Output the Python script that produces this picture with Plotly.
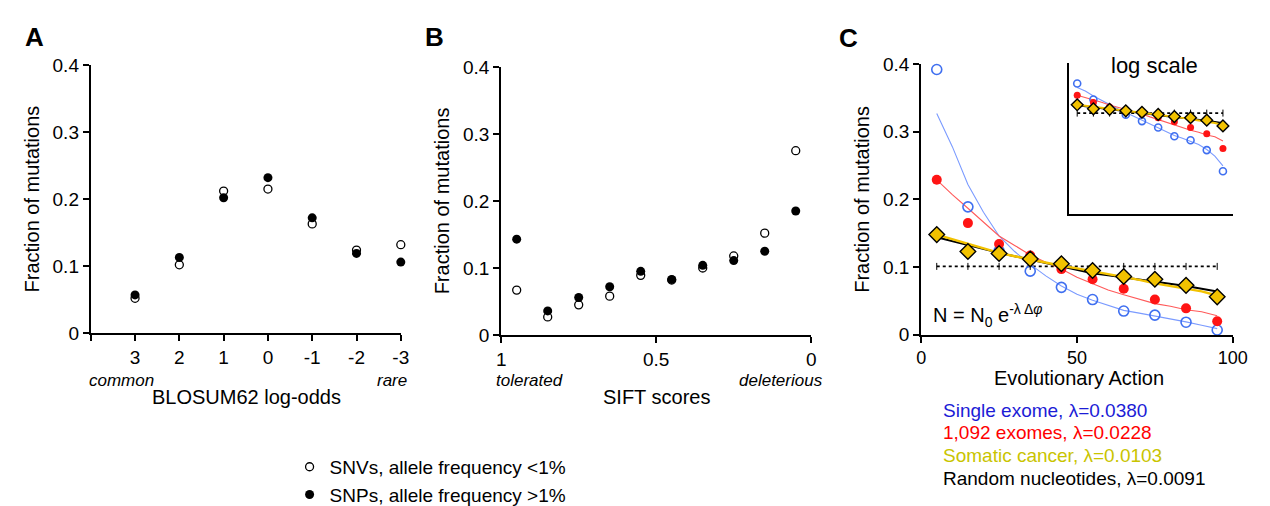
import plotly.graph_objects as go

W, H = 1270, 506
FONT = "Liberation Sans, Arial, sans-serif"

# ---------------- data ----------------
# Panel A: BLOSUM62 log-odds
blosum_x = [3, 2, 1, 0, -1, -2, -3]
blosum_snv = [0.052, 0.102, 0.212, 0.215, 0.163, 0.124, 0.132]   # open, SNVs <1%
blosum_snp = [0.057, 0.113, 0.202, 0.232, 0.172, 0.119, 0.106]   # filled, SNPs >1%
blosum_tickvals = [4, 3, 2, 1, 0, -1, -2, -3]
blosum_ticktext = ["", "3", "2", "1", "0", "-1", "-2", "-3"]

# Panel B: SIFT scores
sift_x = [0.95, 0.85, 0.75, 0.65, 0.55, 0.45, 0.35, 0.25, 0.15, 0.05]
sift_snv = [0.067, 0.027, 0.045, 0.058, 0.089, 0.082, 0.100, 0.118, 0.152, 0.275]
sift_snp = [0.143, 0.036, 0.056, 0.072, 0.095, 0.083, 0.104, 0.111, 0.125, 0.185]
sift_tickvals = [1, 0.5, 0]
sift_ticktext = ["1", "0.5", "0"]

# Panel C: Evolutionary Action
ea_x = [5, 15, 25, 35, 45, 55, 65, 75, 85, 95]
single_exome = [0.392, 0.189, 0.124, 0.094, 0.070, 0.052, 0.035, 0.029, 0.0185, 0.007]
exomes_1092 = [0.229, 0.165, 0.134, 0.117, 0.097, 0.082, 0.068, 0.052, 0.039, 0.020]
somatic_cancer = [0.148, 0.123, 0.120, 0.112, 0.105, 0.095, 0.086, 0.082, 0.073, 0.056]
uniform_level = [0.101] * 10

fit_x = [5, 10, 15, 20, 25, 30, 35, 40, 45, 50, 55, 60, 65, 70, 75, 80, 85, 90, 95]
single_exome_fit = [0.327, 0.278, 0.222, 0.181, 0.146, 0.123, 0.104, 0.087, 0.072, 0.060,
                    0.051, 0.043, 0.036, 0.032, 0.028, 0.024, 0.019, 0.014, 0.009]
exomes_1092_fit = [0.229, 0.207, 0.187, 0.166, 0.146, 0.132, 0.118, 0.107, 0.097, 0.085,
                   0.075, 0.066, 0.059, 0.052, 0.046, 0.042, 0.037, 0.034, 0.028]
random_nucleotides = [0.144, 0.138, 0.132, 0.126, 0.121, 0.116, 0.111, 0.107, 0.102, 0.096,
                      0.091, 0.088, 0.085, 0.081, 0.078, 0.075, 0.072, 0.068, 0.064]
somatic_cancer_fit = [0.148, 0.141, 0.134, 0.127, 0.121, 0.116, 0.111, 0.106, 0.102, 0.098,
                      0.094, 0.090, 0.086, 0.081, 0.076, 0.072, 0.068, 0.064, 0.058]

frac_tickvals = [0, 0.1, 0.2, 0.3, 0.4]
frac_ticktext = ["0", "0.1", "0.2", "0.3", "0.4"]
ea_tickvals = [0, 50, 100]
ea_ticktext = ["0", "50", "100"]

legend_labels = ["Single exome, λ=0.0380", "1,092 exomes, λ=0.0228",
                 "Somatic cancer, λ=0.0103", "Random nucleotides, λ=0.0091"]
legend_colors = ["#1c1cd6", "#ff0000", "#c9c400", "#000000"]

# ---------------- helpers (page pixel -> paper fraction) ----------------
def fx(p):
    return p / W

def fy(p):
    return 1 - p / H

BLUE_M = "#3f6ff0"
BLUE_L = "#7b9bff"
RED_M = "#ff1414"
RED_L = "#ff5a5a"
GOLD = "#f2c200"

fig = go.Figure()

# Panel A
fig.add_trace(go.Scatter(x=blosum_x, y=blosum_snv, mode="markers", name="SNVs, allele frequency <1%",
                         marker=dict(symbol="circle-open", size=8, color="black", line=dict(width=1.3)),
                         xaxis="x", yaxis="y", cliponaxis=False, legendrank=1))
fig.add_trace(go.Scatter(x=blosum_x, y=blosum_snp, mode="markers", name="SNPs, allele frequency >1%",
                         marker=dict(symbol="circle", size=9, color="black"),
                         xaxis="x", yaxis="y", cliponaxis=False, legendrank=2))
# Panel B
fig.add_trace(go.Scatter(x=sift_x, y=sift_snv, mode="markers", showlegend=False,
                         marker=dict(symbol="circle-open", size=8, color="black", line=dict(width=1.3)),
                         xaxis="x2", yaxis="y2", cliponaxis=False))
fig.add_trace(go.Scatter(x=sift_x, y=sift_snp, mode="markers", showlegend=False,
                         marker=dict(symbol="circle", size=9, color="black"),
                         xaxis="x2", yaxis="y2", cliponaxis=False))

# Panel C main + inset
def add_c(xa, ya, msize, lw_scale):
    fig.add_trace(go.Scatter(x=ea_x, y=uniform_level, mode="lines+markers", showlegend=False,
                             line=dict(color="black", width=1.6, dash="dot"),
                             marker=dict(symbol="line-ns-open", size=5, color="black", line=dict(width=1)),
                             xaxis=xa, yaxis=ya, cliponaxis=False))
    fig.add_trace(go.Scatter(x=fit_x, y=single_exome_fit, mode="lines", showlegend=False,
                             line=dict(color=BLUE_L, width=1.1), xaxis=xa, yaxis=ya))
    fig.add_trace(go.Scatter(x=fit_x, y=exomes_1092_fit, mode="lines", showlegend=False,
                             line=dict(color=RED_L, width=1.1), xaxis=xa, yaxis=ya))
    fig.add_trace(go.Scatter(x=fit_x, y=random_nucleotides, mode="lines", showlegend=False,
                             line=dict(color="black", width=2.0 * lw_scale), xaxis=xa, yaxis=ya))
    fig.add_trace(go.Scatter(x=fit_x, y=somatic_cancer_fit, mode="lines", showlegend=False,
                             line=dict(color=GOLD, width=2.4 * lw_scale), xaxis=xa, yaxis=ya))
    fig.add_trace(go.Scatter(x=ea_x, y=single_exome, mode="markers", showlegend=False,
                             marker=dict(symbol="circle-open", size=msize, color=BLUE_M, line=dict(width=1.6)),
                             xaxis=xa, yaxis=ya, cliponaxis=False))
    fig.add_trace(go.Scatter(x=ea_x, y=exomes_1092, mode="markers", showlegend=False,
                             marker=dict(symbol="circle", size=msize, color=RED_M),
                             xaxis=xa, yaxis=ya, cliponaxis=False))
    fig.add_trace(go.Scatter(x=ea_x, y=somatic_cancer, mode="markers", showlegend=False,
                             marker=dict(symbol="diamond", size=msize + 2, color=GOLD,
                                         line=dict(color="black", width=1.4)),
                             xaxis=xa, yaxis=ya, cliponaxis=False))

add_c("x3", "y3", 10, 1.0)
add_c("x4", "y4", 7, 0.8)

axis_common = dict(showline=True, linecolor="black", linewidth=2, ticks="outside", ticklen=6,
                   tickwidth=2, tickcolor="black", showgrid=False, zeroline=False,
                   tickfont=dict(family=FONT, size=19, color="black"))
title_font = dict(family=FONT, size=20, color="black")
ea_axis = dict(axis_common, tickfont=dict(family=FONT, size=18, color="black"))

fig.update_layout(
    width=W, height=H, autosize=False,
    margin=dict(l=0, r=0, t=0, b=0, pad=0),
    paper_bgcolor="white", plot_bgcolor="white",
    font=dict(family=FONT, color="black"),
    xaxis=dict(domain=[fx(79), fx(394)], range=[4, -3], tickvals=blosum_tickvals,
               ticktext=blosum_ticktext, anchor="y", **axis_common),
    yaxis=dict(domain=[fy(335), fy(50)], range=[0, 0.4], tickvals=frac_tickvals,
               ticktext=frac_ticktext, anchor="x",
               title=dict(text="Fraction of mutations", font=title_font, standoff=8), **axis_common),
    xaxis2=dict(domain=[fx(496), fx(811)], range=[1, 0], tickvals=sift_tickvals,
                ticktext=sift_ticktext, anchor="y2", **axis_common),
    yaxis2=dict(domain=[fy(337), fy(52)], range=[0, 0.4], tickvals=frac_tickvals,
                ticktext=frac_ticktext, anchor="x2",
                title=dict(text="Fraction of mutations", font=title_font, standoff=8), **axis_common),
    xaxis3=dict(domain=[fx(922.7), fx(1239.3)], range=[0, 100], tickvals=ea_tickvals,
                ticktext=ea_ticktext, anchor="y3", **ea_axis),
    yaxis3=dict(domain=[fy(336.7), fy(49)], range=[0, 0.4], tickvals=frac_tickvals,
                ticktext=frac_ticktext, anchor="x3",
                title=dict(text="Fraction of mutations", font=title_font, standoff=8), **axis_common),
    xaxis4=dict(domain=[fx(1073), fx(1240)], range=[0, 101.5], anchor="y4", showline=True,
                linecolor="black", linewidth=2, showticklabels=False, ticks="", showgrid=False,
                zeroline=False),
    yaxis4=dict(domain=[fy(208), fy(48)], type="log", range=[-3, 0], anchor="x4", showline=True,
                linecolor="black", linewidth=2, showticklabels=False, ticks="", showgrid=False,
                zeroline=False),
    showlegend=True,
    legend=dict(x=fx(281), y=fy(457), xanchor="left", yanchor="top",
                font=dict(family=FONT, size=19, color="black"), bgcolor="rgba(0,0,0,0)",
                itemwidth=30, tracegroupgap=0),
)

annotations = []

def txt(x, y, text, size=20, color="black", bold=False, italic=False, xanchor="center", angle=0):
    t = text
    if bold:
        t = "<b>" + t + "</b>"
    if italic:
        t = "<i>" + t + "</i>"
    annotations.append(dict(x=fx(x), y=fy(y), xref="paper", yref="paper", text=t, showarrow=False,
                            xanchor=xanchor, yanchor="middle", textangle=angle,
                            font=dict(family=FONT, size=size, color=color)))

# panel letters
txt(22, 20, "A", size=26, bold=True)
txt(428, 20, "B", size=26, bold=True)
txt(849, 21, "C", size=26, bold=True)

# x titles and side labels
txt(237, 403, "BLOSUM62 log-odds")
txt(110, 385, "common", size=17, italic=True)
txt(385, 385, "rare", size=17, italic=True)
txt(654, 403, "SIFT scores")
txt(525, 385, "tolerated", size=17, italic=True)
txt(780, 385, "deleterious", size=17, italic=True)
txt(1083, 383, "Evolutionary Action")

# inset title and formula
txt(1160, 50, "log scale", size=22)
txt(933, 316, "N = N<sub>0</sub> e<sup>-λ Δ<i>φ</i></sup>", size=20, xanchor="left")

# Panel C legend
for i, (lab, col) in enumerate(zip(legend_labels, legend_colors)):
    txt(943, 417 + 24 * i, lab, size=19, color=col, xanchor="left")

fig.update_layout(annotations=annotations)

fig.write_html("out.html")
